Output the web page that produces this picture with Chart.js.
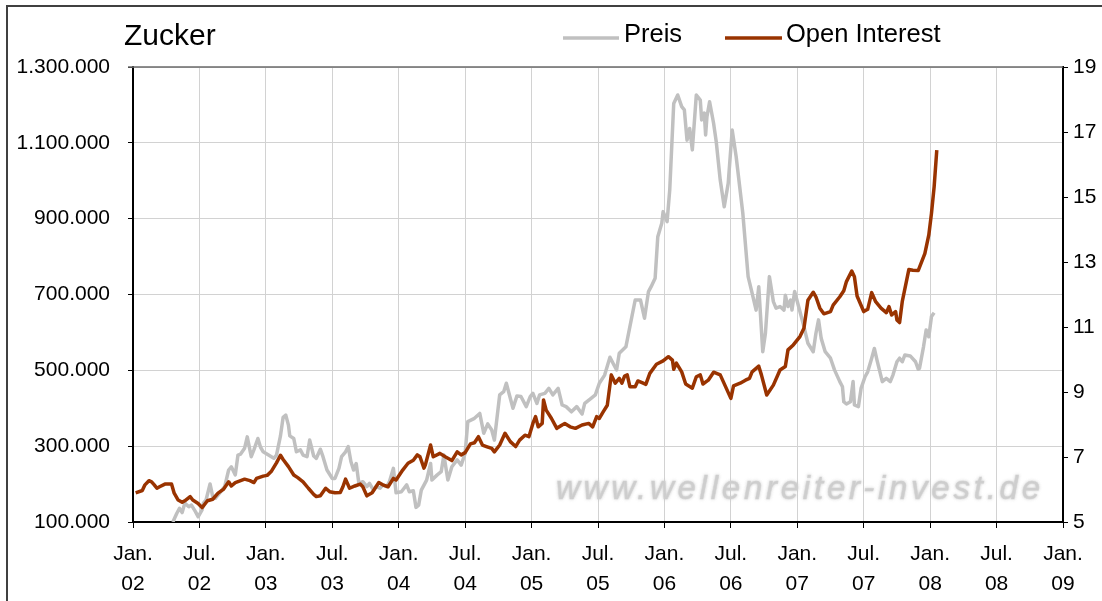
<!DOCTYPE html>
<html><head><meta charset="utf-8">
<script src="https://cdn.jsdelivr.net/npm/chart.js@4"></script>
<style>html,body{margin:0;padding:0;background:#fff;overflow:hidden}canvas{display:block}</style>
</head><body>
<canvas id="c" width="1102" height="601"></canvas>
<script>
const chartTitle = 'Zucker';
const seriesNames = ['Preis', 'Open Interest'];
const watermarkText = 'www.wellenreiter-invest.de';
const monthNames = ['Jan.', 'Jul.'];
const xRange = [2002, 2009, 0.5];          // years, half-year ticks
const leftRange = [100, 1300, 200];        // open interest, thousands of contracts
const rightRange = [5, 19, 2];             // price, US cents/lb

// [decimal year, open interest in thousands]
const openInterest = [
[2002.02,177],[2002.07,183],[2002.09,198],[2002.12,209],[2002.14,206],[2002.16,198],[2002.18,189],[2002.20,193],[2002.24,200],[2002.29,200],
[2002.31,176],[2002.34,158],[2002.37,152],[2002.39,156],[2002.43,167],[2002.45,158],[2002.49,149],[2002.52,138],[2002.56,156],[2002.60,160],
[2002.64,176],[2002.68,186],[2002.72,206],[2002.74,195],[2002.77,204],[2002.81,209],[2002.84,213],[2002.88,209],[2002.91,204],[2002.93,215],
[2002.98,221],[2003.01,223],[2003.04,233],[2003.08,256],[2003.11,276],[2003.13,265],[2003.17,246],[2003.21,224],[2003.24,217],[2003.28,206],
[2003.32,189],[2003.36,173],[2003.38,167],[2003.41,169],[2003.45,189],[2003.48,180],[2003.52,177],[2003.56,178],[2003.58,193],[2003.60,213],
[2003.63,189],[2003.67,195],[2003.71,200],[2003.73,193],[2003.76,169],[2003.80,177],[2003.85,204],[2003.88,198],[2003.92,193],[2003.96,215],
[2003.98,211],[2004.03,237],[2004.07,255],[2004.11,263],[2004.14,277],[2004.16,272],[2004.19,242],[2004.20,250],[2004.24,303],[2004.26,272],
[2004.31,281],[2004.35,272],[2004.40,262],[2004.44,285],[2004.47,277],[2004.50,283],[2004.54,306],[2004.57,309],[2004.60,325],[2004.63,303],
[2004.66,299],[2004.70,294],[2004.72,285],[2004.76,303],[2004.80,334],[2004.84,312],[2004.88,299],[2004.91,316],[2004.95,329],[2004.98,325],
[2005.01,360],[2005.03,378],[2005.05,351],[2005.08,360],[2005.09,422],[2005.11,395],[2005.15,373],[2005.19,347],[2005.23,356],[2005.25,360],
[2005.29,351],[2005.33,347],[2005.38,356],[2005.43,360],[2005.46,351],[2005.49,378],[2005.51,373],[2005.54,391],[2005.57,408],[2005.60,488],
[2005.63,466],[2005.66,479],[2005.68,466],[2005.70,485],[2005.72,488],[2005.74,457],[2005.78,457],[2005.80,472],[2005.84,466],[2005.86,463],
[2005.89,492],[2005.94,516],[2005.99,525],[2006.03,536],[2006.06,527],[2006.07,503],[2006.09,519],[2006.13,496],[2006.16,464],[2006.21,453],
[2006.24,483],[2006.27,488],[2006.29,464],[2006.33,474],[2006.37,495],[2006.42,488],[2006.46,457],[2006.50,426],[2006.52,459],[2006.57,466],
[2006.61,474],[2006.64,479],[2006.66,496],[2006.71,511],[2006.73,488],[2006.77,435],[2006.82,461],[2006.87,501],[2006.91,510],[2006.93,554],
[2006.97,567],[2007.02,589],[2007.05,611],[2007.08,685],[2007.12,706],[2007.14,694],[2007.17,664],[2007.20,649],[2007.25,655],[2007.27,672],
[2007.32,694],[2007.35,710],[2007.37,734],[2007.41,762],[2007.43,747],[2007.45,696],[2007.50,655],[2007.53,661],[2007.56,705],[2007.59,681],
[2007.63,664],[2007.67,652],[2007.69,668],[2007.71,646],[2007.74,655],[2007.75,633],[2007.77,626],[2007.79,681],[2007.84,766],[2007.87,764],
[2007.91,763],[2007.96,808],[2007.99,857],[2008.01,914],[2008.03,984],[2008.05,1081]
];

// [decimal year, price]
const preis = [
[2002.30,5.00],[2002.33,5.27],[2002.35,5.42],[2002.37,5.29],[2002.39,5.58],[2002.42,5.47],[2002.44,5.52],[2002.47,5.32],[2002.49,5.16],[2002.52,5.37],
[2002.53,5.58],[2002.55,5.68],[2002.58,6.17],[2002.60,5.78],[2002.62,5.73],[2002.65,5.88],[2002.69,6.09],[2002.72,6.60],[2002.74,6.70],[2002.77,6.45],
[2002.79,7.06],[2002.81,7.09],[2002.84,7.27],[2002.86,7.62],[2002.89,7.01],[2002.91,7.22],[2002.94,7.57],[2002.96,7.30],[2002.98,7.16],[2003.02,7.06],
[2003.06,6.96],[2003.08,7.06],[2003.11,7.65],[2003.13,8.22],[2003.15,8.29],[2003.17,7.98],[2003.18,7.65],[2003.21,7.57],[2003.23,7.16],[2003.26,7.22],
[2003.28,7.06],[2003.31,7.01],[2003.33,7.52],[2003.36,7.03],[2003.38,6.96],[2003.41,7.24],[2003.43,7.01],[2003.46,6.60],[2003.50,6.34],[2003.52,6.34],
[2003.55,6.65],[2003.57,7.01],[2003.60,7.16],[2003.62,7.32],[2003.64,6.86],[2003.66,6.60],[2003.68,6.80],[2003.70,6.19],[2003.73,6.24],[2003.76,6.09],
[2003.78,6.19],[2003.81,5.98],[2003.83,6.09],[2003.86,6.04],[2003.88,6.14],[2003.91,6.09],[2003.93,6.24],[2003.96,6.65],[2003.98,5.90],[2004.02,5.93],
[2004.06,6.14],[2004.08,5.93],[2004.11,5.96],[2004.13,5.45],[2004.15,5.52],[2004.17,5.98],[2004.21,6.29],[2004.24,6.80],[2004.25,6.29],[2004.29,6.45],
[2004.32,6.55],[2004.34,7.06],[2004.37,6.29],[2004.40,6.70],[2004.44,6.91],[2004.47,6.75],[2004.50,7.11],[2004.52,8.09],[2004.57,8.19],[2004.61,8.34],
[2004.64,7.73],[2004.67,8.02],[2004.70,7.83],[2004.72,7.52],[2004.76,8.91],[2004.79,9.01],[2004.81,9.27],[2004.84,8.81],[2004.86,8.50],[2004.89,8.88],
[2004.92,8.86],[2004.96,8.55],[2004.99,8.86],[2005.01,8.96],[2005.04,8.65],[2005.06,8.91],[2005.10,8.96],[2005.13,9.11],[2005.16,8.91],[2005.20,9.11],
[2005.23,8.60],[2005.26,8.55],[2005.30,8.39],[2005.34,8.55],[2005.38,8.32],[2005.40,8.65],[2005.45,8.81],[2005.48,8.91],[2005.51,9.27],[2005.55,9.52],
[2005.59,10.07],[2005.62,9.83],[2005.64,9.68],[2005.66,10.19],[2005.71,10.39],[2005.74,11.01],[2005.78,11.83],[2005.82,11.83],[2005.85,11.27],[2005.88,12.09],
[2005.90,12.24],[2005.93,12.50],[2005.95,13.78],[2005.98,14.19],[2005.99,14.55],[2006.02,14.24],[2006.04,15.22],[2006.07,17.88],[2006.10,18.14],[2006.13,17.78],
[2006.15,17.68],[2006.17,16.75],[2006.19,17.11],[2006.21,16.45],[2006.24,18.14],[2006.27,17.98],[2006.28,17.37],[2006.30,17.58],[2006.31,16.91],[2006.32,17.47],
[2006.34,17.93],[2006.37,17.27],[2006.39,16.70],[2006.42,15.52],[2006.45,14.70],[2006.48,15.42],[2006.51,17.06],[2006.54,16.24],[2006.59,14.50],[2006.63,12.55],
[2006.66,12.04],[2006.69,11.52],[2006.71,12.24],[2006.74,10.24],[2006.76,10.80],[2006.79,12.55],[2006.82,11.78],[2006.84,11.58],[2006.87,11.63],[2006.90,11.52],
[2006.91,11.98],[2006.93,11.63],[2006.95,11.83],[2006.96,11.52],[2006.98,12.09],[2007.01,11.63],[2007.05,11.01],[2007.08,10.50],[2007.12,10.24],[2007.14,10.80],
[2007.16,11.22],[2007.18,10.65],[2007.21,10.24],[2007.25,10.04],[2007.28,9.68],[2007.32,9.32],[2007.34,9.16],[2007.35,8.70],[2007.37,8.63],[2007.40,8.70],
[2007.42,9.32],[2007.43,8.60],[2007.46,8.55],[2007.48,9.11],[2007.51,9.47],[2007.53,9.62],[2007.56,10.04],[2007.58,10.34],[2007.60,9.98],[2007.64,9.32],
[2007.67,9.42],[2007.70,9.32],[2007.72,9.52],[2007.75,9.93],[2007.77,10.04],[2007.79,9.93],[2007.81,10.14],[2007.85,10.11],[2007.89,9.93],[2007.91,9.70],
[2007.92,9.73],[2007.95,10.39],[2007.97,10.91],[2007.99,10.70],[2008.01,11.32],[2008.03,11.44]
];

const FONT = '"Liberation Sans", Arial, Helvetica, sans-serif';
const RED = '#993300', GREY = '#c0c0c0', GRID = '#d2d2d2';

function thousands(v) {
  return String(Math.round(v)).replace(/\B(?=(\d{3})+(?!\d))/g, '.');
}

const deco = {
  id: 'deco',
  beforeDatasetsDraw(chart) {
    const ctx = chart.ctx;
    ctx.save();
    ctx.font = 'italic 33px ' + FONT;
    ctx.fillStyle = '#cfcfcf';
    ctx.strokeStyle = 'rgba(210,210,210,0.7)';
    ctx.lineWidth = 0.6;
    ctx.shadowColor = 'rgba(200,200,200,0.9)';
    ctx.shadowBlur = 3;
    ctx.textBaseline = 'alphabetic';
    ctx.letterSpacing = '0px';
    const w0 = ctx.measureText(watermarkText).width;
    const sp = (484 - w0) / (watermarkText.length - 1);
    ctx.letterSpacing = sp.toFixed(2) + 'px';
    ctx.fillText(watermarkText, 556, 499);
    ctx.strokeText(watermarkText, 556, 499);
    ctx.restore();
  },
  afterDraw(chart) {
    const ctx = chart.ctx, a = chart.chartArea;
    ctx.save();
    // outer frame
    ctx.strokeStyle = '#404040';
    ctx.lineWidth = 2;
    ctx.beginPath();
    ctx.moveTo(7, 601); ctx.lineTo(7, 6); ctx.lineTo(1102, 6);
    ctx.stroke();
    // top border of plot
    ctx.strokeStyle = '#6a6a6a';
    ctx.lineWidth = 1.5;
    ctx.beginPath();
    ctx.moveTo(a.left - 5, a.top); ctx.lineTo(a.right, a.top);
    ctx.stroke();
    // title
    ctx.fillStyle = '#000';
    ctx.font = '30px ' + FONT;
    ctx.textBaseline = 'alphabetic';
    ctx.textAlign = 'left';
    ctx.fillText(chartTitle, 124, 45);
    // legend
    ctx.font = '25.5px ' + FONT;
    ctx.lineWidth = 3.5;
    ctx.lineCap = 'butt';
    ctx.strokeStyle = GREY;
    ctx.beginPath(); ctx.moveTo(563, 38); ctx.lineTo(619, 38); ctx.stroke();
    ctx.fillText(seriesNames[0], 624, 42);
    ctx.strokeStyle = RED;
    ctx.beginPath(); ctx.moveTo(725, 38); ctx.lineTo(782, 38); ctx.stroke();
    ctx.fillText(seriesNames[1], 786, 42);
    ctx.restore();
  }
};

const tickFont = { family: FONT, size: 21, lineHeight: 1.4 };

new Chart(document.getElementById('c'), {
  type: 'line',
  data: {
    datasets: [
      {
        label: seriesNames[1],
        data: openInterest.map(p => ({ x: p[0], y: p[1] })),
        yAxisID: 'y',
        borderColor: RED, borderWidth: 3.5, pointRadius: 0, tension: 0,
        borderJoinStyle: 'round', fill: false
      },
      {
        label: seriesNames[0],
        data: preis.map(p => ({ x: p[0], y: p[1] })),
        yAxisID: 'y1',
        borderColor: GREY, borderWidth: 3.5, pointRadius: 0, tension: 0,
        borderJoinStyle: 'round', fill: false
      }
    ]
  },
  options: {
    responsive: false,
    animation: false,
    devicePixelRatio: 1,
    layout: { padding: { top: 67, left: 0, right: 0, bottom: 0 } },
    plugins: { legend: { display: false }, title: { display: false }, tooltip: { enabled: false } },
    scales: {
      x: {
        type: 'linear',
        min: xRange[0], max: xRange[1],
        afterFit: s => { s.height = 79; },
        ticks: {
          stepSize: xRange[2], autoSkip: false, maxRotation: 0, minRotation: 0,
          color: '#000', font: tickFont, padding: 12,
          callback: v => {
            const yr = Math.floor(v + 1e-6);
            const half = (v - yr) > 0.25;
            return [half ? monthNames[1] : monthNames[0], String(yr).slice(2)];
          }
        },
        grid: { color: GRID, lineWidth: 1, tickColor: '#000', tickLength: 6, drawTicks: true },
        border: { color: '#000', width: 2 }
      },
      y: {
        position: 'left',
        min: leftRange[0], max: leftRange[1],
        afterFit: s => { s.width = 133; },
        ticks: { stepSize: leftRange[2], color: '#000', font: tickFont, padding: 18,
          callback: v => thousands(v * 1000) },
        grid: { color: GRID, lineWidth: 1, tickColor: '#000', tickLength: 5 },
        border: { color: '#000', width: 2 }
      },
      y1: {
        position: 'right',
        min: rightRange[0], max: rightRange[1],
        afterFit: s => { s.width = 39; },
        ticks: { stepSize: rightRange[2], color: '#000', font: tickFont, padding: 5 },
        grid: { drawOnChartArea: false, tickColor: '#000', tickLength: 5 },
        border: { color: '#000', width: 2 }
      }
    }
  },
  plugins: [deco]
});
</script>
</body></html>
